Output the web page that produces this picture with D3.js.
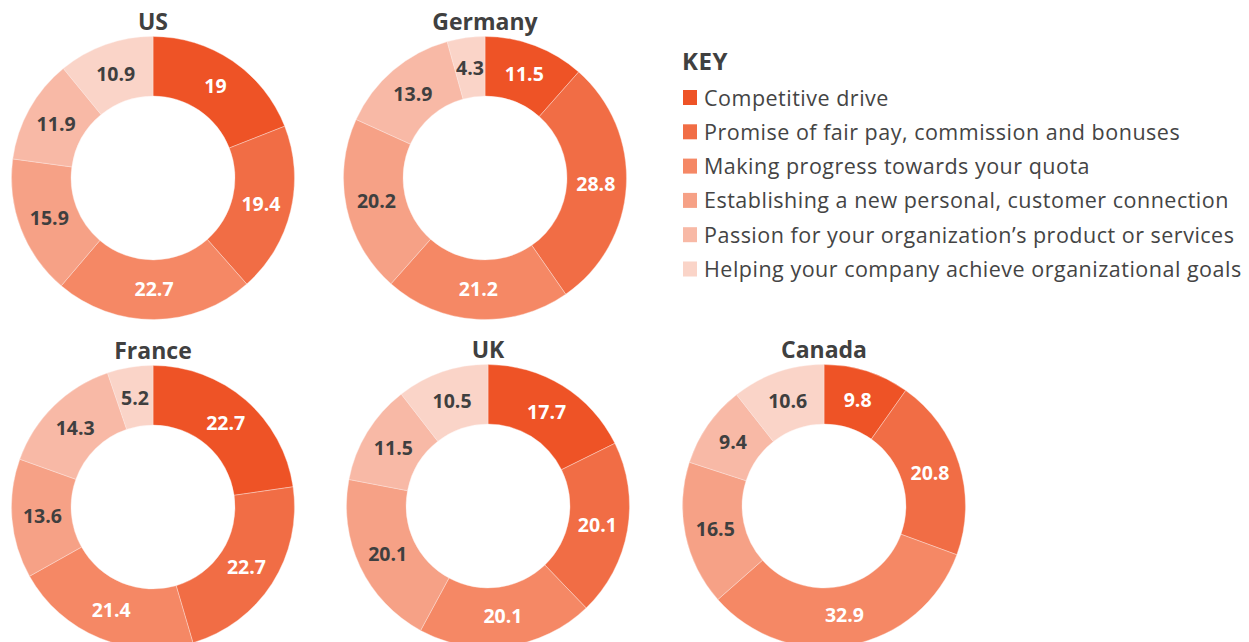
<!DOCTYPE html>
<html>
<head>
<meta charset="utf-8">
<script src="https://cdn.jsdelivr.net/npm/d3@7"></script>
<style>
  body { margin: 0; background: #fff; }
  svg { display: block; }
</style>
</head>
<body>
<div class="chart"></div>
<script>
const categories = ["Competitive drive", "Promise of fair pay, commission and bonuses",
                    "Making progress towards your quota", "Establishing a new personal, customer connection",
                    "Passion for your organization\u2019s product or services",
                    "Helping your company achieve organizational goals"];
const countries = ["US", "Germany", "France", "UK", "Canada"];
const usValues      = [19, 19.4, 22.7, 15.9, 11.9, 10.9];
const germanyValues = [11.5, 28.8, 21.2, 20.2, 13.9, 4.3];
const franceValues  = [22.7, 22.7, 21.4, 13.6, 14.3, 5.2];
const ukValues      = [17.7, 20.1, 20.1, 20.1, 11.5, 10.5];
const canadaValues  = [9.8, 20.8, 32.9, 16.5, 9.4, 10.6];
const colors = ["#ee5326", "#f16d45", "#f58865", "#f6a186", "#f8b9a6", "#fad4c8"];

const allValues = [usValues, germanyValues, franceValues, ukValues, canadaValues];

const width = 1249, height = 642;
const outerR = 141.5, innerR = 82;
const font = "'Open Sans', Lato, sans-serif";
// donut centres
const centres = [[153, 178], [485, 178], [153, 507], [488, 506], [824, 506]];

const svg = d3.select(".chart").append("svg")
  .attr("width", width)
  .attr("height", height);

const color = d3.scaleOrdinal().domain(d3.range(6)).range(colors);
const pie = d3.pie().sort(null).value(d => d.v);
const arc = d3.arc().innerRadius(innerR).outerRadius(outerR);
const labelArc = d3.arc().innerRadius(111).outerRadius(111);

countries.forEach(function (name, k) {
  const data = allValues[k].map((v, i) => ({ v: v, i: i }));
  const g = svg.append("g")
    .attr("transform", "translate(" + centres[k][0] + "," + centres[k][1] + ")");

  g.selectAll("path")
    .data(pie(data))
    .enter()
    .append("path")
    .attr("d", arc)
    .attr("fill", d => color(d.data.i))
    .attr("stroke", "#fde9e2")
    .attr("stroke-width", 0.4);

  g.selectAll("text.lbl")
    .data(pie(data))
    .enter()
    .append("text")
    .attr("class", "lbl")
    .attr("transform", d => "translate(" + labelArc.centroid(d) + ")")
    .attr("text-anchor", "middle")
    .attr("dy", "0.36em")
    .style("font-family", font)
    .style("font-weight", "700")
    .style("font-size", "19.5px")
    .attr("fill", d => d.data.i < 3 ? "#fff" : "#3f3f3f")
    .text(d => d.data.v);

  g.append("text")
    .attr("x", 0)
    .attr("y", -outerR - 7)
    .attr("text-anchor", "middle")
    .style("font-family", font)
    .style("font-weight", "700")
    .style("font-size", "23px")
    .attr("fill", "#404040")
    .text(name);
});

// legend
const legend = svg.append("g").attr("transform", "translate(683,0)");
legend.append("text")
  .attr("x", -1)
  .attr("y", 70)
  .style("font-family", font)
  .style("font-weight", "700")
  .style("font-size", "24px")
  .style("letter-spacing", "0.5px")
  .attr("fill", "#404040")
  .text("KEY");

const row = legend.selectAll("g.row")
  .data(categories)
  .enter()
  .append("g")
  .attr("class", "row")
  .attr("transform", (d, i) => "translate(0," + (98 + i * 34.3) + ")");

row.append("rect")
  .attr("x", 0)
  .attr("y", -8)
  .attr("width", 14)
  .attr("height", 15)
  .attr("fill", (d, i) => color(i));

row.append("text")
  .attr("x", 21)
  .attr("dy", "0.35em")
  .style("font-family", font)
  .style("font-size", "21.5px")
  .style("letter-spacing", "0.5px")
  .attr("fill", "#444")
  .text(d => d);
</script>
</body>
</html>
